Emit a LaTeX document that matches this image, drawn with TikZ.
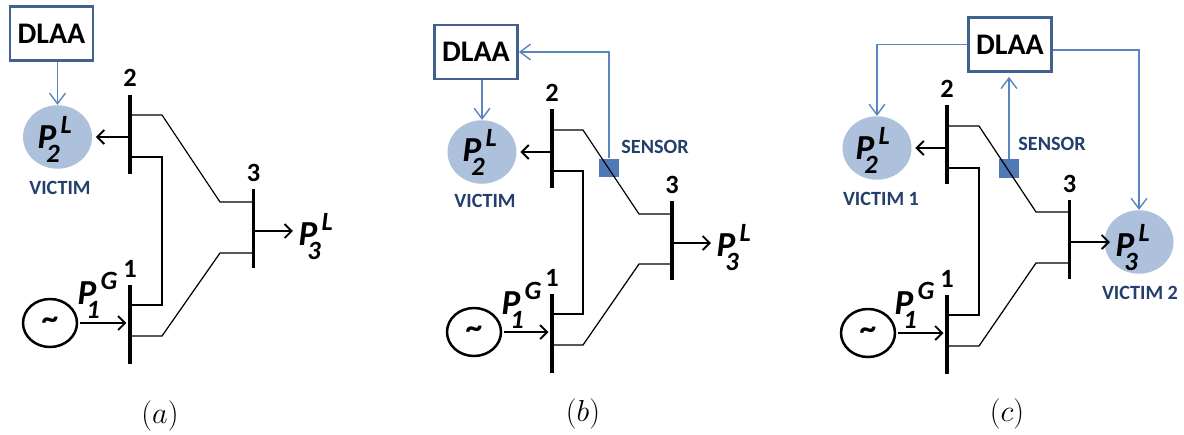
\documentclass[tikz,border=0pt]{standalone}
\usepackage{fontspec}
\setmainfont{Carlito}
\usetikzlibrary{shapes.geometric,arrows.meta,positioning}
\definecolor{boxline}{HTML}{41618F}
\definecolor{ctrlline}{HTML}{5B85C0}
\definecolor{loadfill}{HTML}{ADC0DC}
\definecolor{sensorfill}{HTML}{4F79B5}
\definecolor{tagtext}{HTML}{243F6B}
\newcommand{\pq}[2]{{\bfseries\itshape\fontsize{20}{20}\selectfont P\rlap{\hspace{2.4pt}\raisebox{8.4pt}{\fontsize{15}{15}\selectfont #2}}\rlap{\hspace{-5.7pt}\raisebox{-8pt}{\fontsize{15}{15}\selectfont #1}}}}
\tikzstyle{bus} = [rectangle, fill=black, minimum width=0.07cm, minimum height=1.58cm]
\tikzstyle{busnum} = [font=\bfseries\fontsize{15}{15}\selectfont]
\tikzstyle{dlaa} = [rectangle, draw=boxline, line width=0.055cm, fill=white, minimum width=1.66cm, minimum height=1.08cm, font=\bfseries\fontsize{17}{17}\selectfont]
\tikzstyle{load} = [ellipse, fill=loadfill, minimum width=1.38cm, minimum height=1.27cm]
\tikzstyle{gen} = [ellipse, draw, line width=0.05cm, minimum width=1.08cm, minimum height=0.96cm, font=\bfseries\fontsize{19}{19}\selectfont]
\tikzstyle{sensor} = [rectangle, fill=sensorfill, minimum width=0.4cm, minimum height=0.37cm]
\tikzstyle{tag} = [text=tagtext, font=\bfseries\fontsize{11.5}{11.5}\selectfont]
\tikzstyle{power} = [anchor=base]
\tikzstyle{caption} = [font=\fontsize{18.5}{18.5}\selectfont]
\tikzstyle{feeder} = [draw, line width=0.7pt]
\tikzstyle{flow} = [draw, line width=1.1pt, shorten >=2pt, shorten <=1pt, -{Straight Barb[length=4pt,width=8pt,line width=1.1pt]}]
\tikzstyle{ctrl} = [draw=ctrlline, line width=0.8pt, -{Straight Barb[length=6pt,width=9pt,line width=0.8pt]}]
\begin{document}
\begin{tikzpicture}[
    x=0.02cm,
    y=-0.02cm,
    node distance=4pt,
    every node/.style={inner sep=0pt, align=center}
]
    \useasboundingbox (0,0) rectangle (1184,434);

    \node[dlaa] (adlaa) at (51.5,33.5) {DLAA};
    \node[load] (aload2) at (57.5,137) {};
    \node[bus] (a2) at (130,134) {};
    \node[bus] (a3) at (253.5,228.5) {};
    \node[bus] (a1) at (130,324.5) {};
    \node[busnum, above = of a2] (a2num) {2};
    \node[busnum, above = of a3] (a3num) {3};
    \node[busnum, above = of a1] (a1num) {1};
    \node[gen] (agen) at (50,323) {\textasciitilde};
    \node[power] (apl2) at (47,148.4) {\pq{2}{L}};
    \node[power] (apl3) at (308,245.4) {\pq{3}{L}};
    \node[power] (apg1) at (87,304.4) {\pq{1}{G}};
    \node[tag] (avictim) at (60,188) {VICTIM};
    \node[caption] (acap) at (160,416) {$(a)$};
    \coordinate (a3out) at (296.5,231);

    \path[ctrl] (adlaa.south -| aload2.north) -- (aload2.north);
    \path[flow] (a2 |- aload2) -- (aload2.east);
    \path[flow] (a3 |- a3out) -- (a3out);
    \path[flow] (agen.east) -- (a1 |- agen);
    \path[feeder] (a2 |- 0,115) -- ++(32,0) -- ++(58,87) -- (a3 |- 0,202);
    \path[feeder] (a2 |- 0,157) -- ++(32,0) -- ++(0,148) -- (a1 |- 0,305);
    \path[feeder] (a1 |- 0,336) -- ++(32,0) -- ++(58,-83) -- (a3 |- 0,253);

    \node[dlaa] (bdlaa) at (476,52) {DLAA};
    \node[load] (bload2) at (482,152) {};
    \node[sensor] (bsensor) at (609,168) {};
    \node[bus] (b2) at (552,148.5) {};
    \node[bus] (b3) at (672,240.5) {};
    \node[bus] (b1) at (552,333.5) {};
    \node[busnum, above = of b2] (b2num) {2};
    \node[busnum, above = of b3] (b3num) {3};
    \node[busnum, above = of b1] (b1num) {1};
    \node[gen] (bgen) at (474,332) {\textasciitilde};
    \node[power] (bpl2) at (472,161.4) {\pq{2}{L}};
    \node[power] (bpl3) at (726,256.4) {\pq{3}{L}};
    \node[power] (bpg1) at (511,314.4) {\pq{1}{G}};
    \node[tag] (bvictim) at (485,201) {VICTIM};
    \node[tag] (bsensortag) at (655,147) {SENSOR};
    \node[caption] (bcap) at (583,414) {$(b)$};
    \coordinate (b3out) at (714.5,243);

    \path[ctrl] (bdlaa.south -| bload2.north) -- (bload2.north);
    \path[ctrl] (bsensor.north) |- (bdlaa.east);
    \path[flow] (b2 |- bload2) -- (bload2.east);
    \path[flow] (b3 |- b3out) -- (b3out);
    \path[flow] (bgen.east) -- (b1 |- bgen);
    \path[feeder] (b2 |- 0,130) -- ++(31,0) -- ++(56,84) -- (b3 |- 0,214);
    \path[feeder] (b2 |- 0,171) -- ++(31,0) -- ++(0,143) -- (b1 |- 0,314);
    \path[feeder] (b1 |- 0,345) -- ++(31,0) -- ++(56,-81) -- (b3 |- 0,264);

    \node[dlaa] (cdlaa) at (1010,44.5) {DLAA};
    \node[load] (cload2) at (877,148) {};
    \node[load] (cload3) at (1139,242) {};
    \node[sensor] (csensor) at (1009,168.5) {};
    \node[bus] (c2) at (947,144.5) {};
    \node[bus] (c3) at (1069.5,239.5) {};
    \node[bus] (c1) at (947,334.5) {};
    \node[busnum, above = of c2] (c2num) {2};
    \node[busnum, above = of c3] (c3num) {3};
    \node[busnum, above = of c1] (c1num) {1};
    \node[gen] (cgen) at (868,333) {\textasciitilde};
    \node[power] (cpl2) at (865,159.4) {\pq{2}{L}};
    \node[power] (cpl3) at (1125,256.4) {\pq{3}{L}};
    \node[power] (cpg1) at (904,314.4) {\pq{1}{G}};
    \node[tag] (cvictim1) at (881,199) {VICTIM 1};
    \node[tag] (cvictim2) at (1140,293) {VICTIM 2};
    \node[tag] (csensortag) at (1052,144) {SENSOR};
    \node[caption] (ccap) at (1007,414) {$(c)$};
    \coordinate (c3out) at (1113.5,242);

    \path[ctrl] (cdlaa.west) -| (cload2.north);
    \path[ctrl] ([yshift=-0.11cm]cdlaa.east) -| (cload3.north);
    \path[ctrl, shorten >=0.08cm] (csensor.north) -- (cdlaa.south -| csensor.north);
    \path[flow] (c2 |- cload2) -- (cload2.east);
    \path[flow] (c3 |- c3out) -- (c3out);
    \path[flow] (cgen.east) -- (c1 |- cgen);
    \path[feeder] (c2 |- 0,126) -- ++(32,0) -- ++(57,86) -- (c3 |- 0,212);
    \path[feeder] (c2 |- 0,168) -- ++(32,0) -- ++(0,147) -- (c1 |- 0,315);
    \path[feeder] (c1 |- 0,346) -- ++(32,0) -- ++(57,-83) -- (c3 |- 0,263);
\end{tikzpicture}
\end{document}
